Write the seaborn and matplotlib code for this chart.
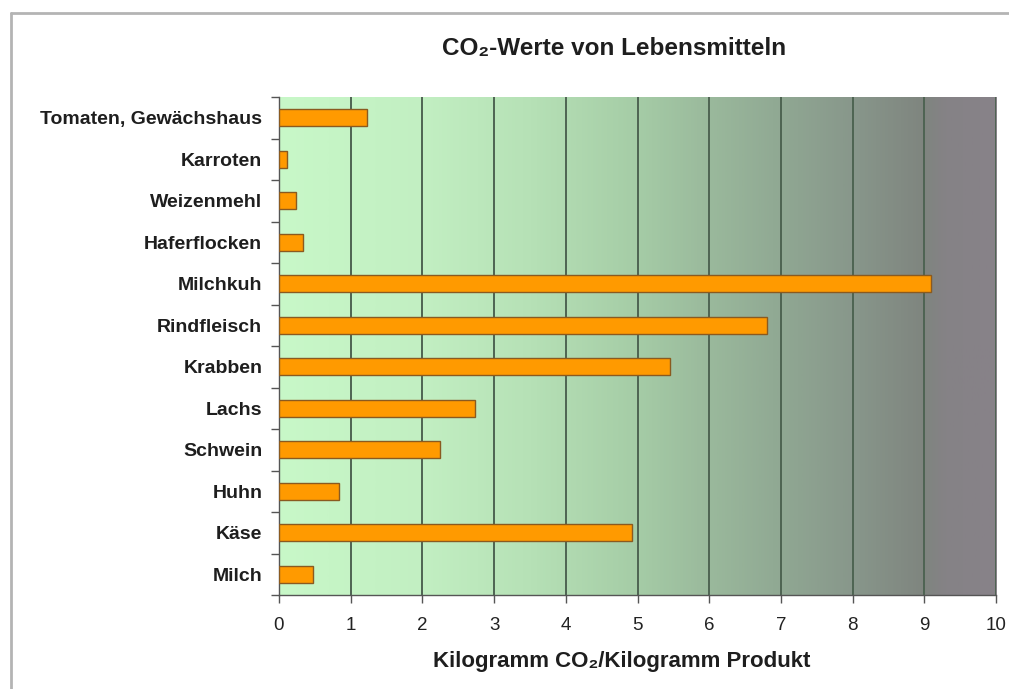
import numpy as np
import pandas as pd
import matplotlib
matplotlib.use("Agg")
import matplotlib.pyplot as plt
import seaborn as sns
from matplotlib.colors import LinearSegmentedColormap
from matplotlib.lines import Line2D

# ---- data ----
categories = ["Tomaten, Gewächshaus", "Karroten", "Weizenmehl", "Haferflocken",
              "Milchkuh", "Rindfleisch", "Krabben", "Lachs", "Schwein",
              "Huhn", "Käse", "Milch"]
values = [1.23, 0.11, 0.24, 0.33, 9.09, 6.8, 5.45, 2.74, 2.24, 0.83, 4.92, 0.48]
x_ticks = [0, 1, 2, 3, 4, 5, 6, 7, 8, 9, 10]
title = "CO₂-Werte von Lebensmitteln"
xlabel = "Kilogramm CO₂/Kilogramm Produkt"

df = pd.DataFrame({"Lebensmittel": categories, "CO2": values})

sns.set_theme(style="white")
plt.rcParams["font.family"] = ["Liberation Sans", "DejaVu Sans"]

fig = plt.figure(figsize=(10.09, 6.89), dpi=100)
ax = fig.add_axes([279 / 1009, 1 - 595 / 689, 717 / 1009, 498 / 689])

# background gradient
grad_colors = [(0.0, "#c8f8c8"), (0.2, "#c2efc2"), (0.35, "#b6e1b6"),
               (0.5, "#a5cca6"), (0.6, "#9ab99c"), (0.7, "#90a893"),
               (0.8, "#88978b"), (0.9, "#7f857f"), (0.93, "#858286"),
               (1.0, "#888289")]
cmap = LinearSegmentedColormap.from_list("bg", grad_colors)
grad = np.linspace(0, 1, 512).reshape(1, -1)
ax.imshow(grad, cmap=cmap, aspect="auto", extent=[0, 10, len(categories) - 0.5, -0.5],
          zorder=0)

sns.barplot(data=df, x="CO2", y="Lebensmittel", orient="h", color="#ff9a00",
            width=0.42, edgecolor="#8a5a20", linewidth=1.0, saturation=1, ax=ax,
            zorder=3)

ax.set_xlim(0, 10)
ax.set_ylim(len(categories) - 0.5, -0.5)
ax.set_xticks(x_ticks)
ax.set_xticklabels([str(t) for t in x_ticks])
for t in x_ticks[1:]:
    ax.axvline(t, color="#4e6452", lw=1.4, zorder=2)

ax.set_yticks(range(len(categories)))
ax.set_yticks(np.arange(-0.5, len(categories), 1), minor=True)
ax.tick_params(axis="y", which="major", length=0, pad=12, labelsize=14,
               labelcolor="#1e1e1e")
ax.tick_params(axis="y", which="minor", length=6, width=1, color="#555555",
               left=True, direction="out")
ax.tick_params(axis="x", which="major", length=6, width=1, color="#555555",
               bottom=True, direction="out", labelsize=13.5, labelcolor="#222222",
               pad=10)
for lab in ax.get_yticklabels():
    lab.set_fontweight("bold")

ax.set_ylabel("")
ax.set_xlabel(xlabel, fontsize=16, fontweight="bold", color="#1e1e1e")
ax.xaxis.set_label_coords((622 - 279) / 717, -(662 - 595) / 498)
ax.xaxis.label.set_va("center")

for s in ["top", "right"]:
    ax.spines[s].set_visible(False)
for s in ["left", "bottom"]:
    ax.spines[s].set_color("#555555")
    ax.spines[s].set_linewidth(1.0)

fig.text(614 / 1009, 1 - 48 / 689, title, ha="center", va="center",
         fontsize=17.5, fontweight="bold", color="#1e1e1e")

# outer frame (top and left)
fig.add_artist(Line2D([11 / 1009, 1], [1 - 13 / 689, 1 - 13 / 689],
                      transform=fig.transFigure, color="#b4b4b4", lw=2))
fig.add_artist(Line2D([11 / 1009, 11 / 1009], [0, 1 - 13 / 689],
                      transform=fig.transFigure, color="#b4b4b4", lw=2))

fig.savefig("out.png", dpi=100)
